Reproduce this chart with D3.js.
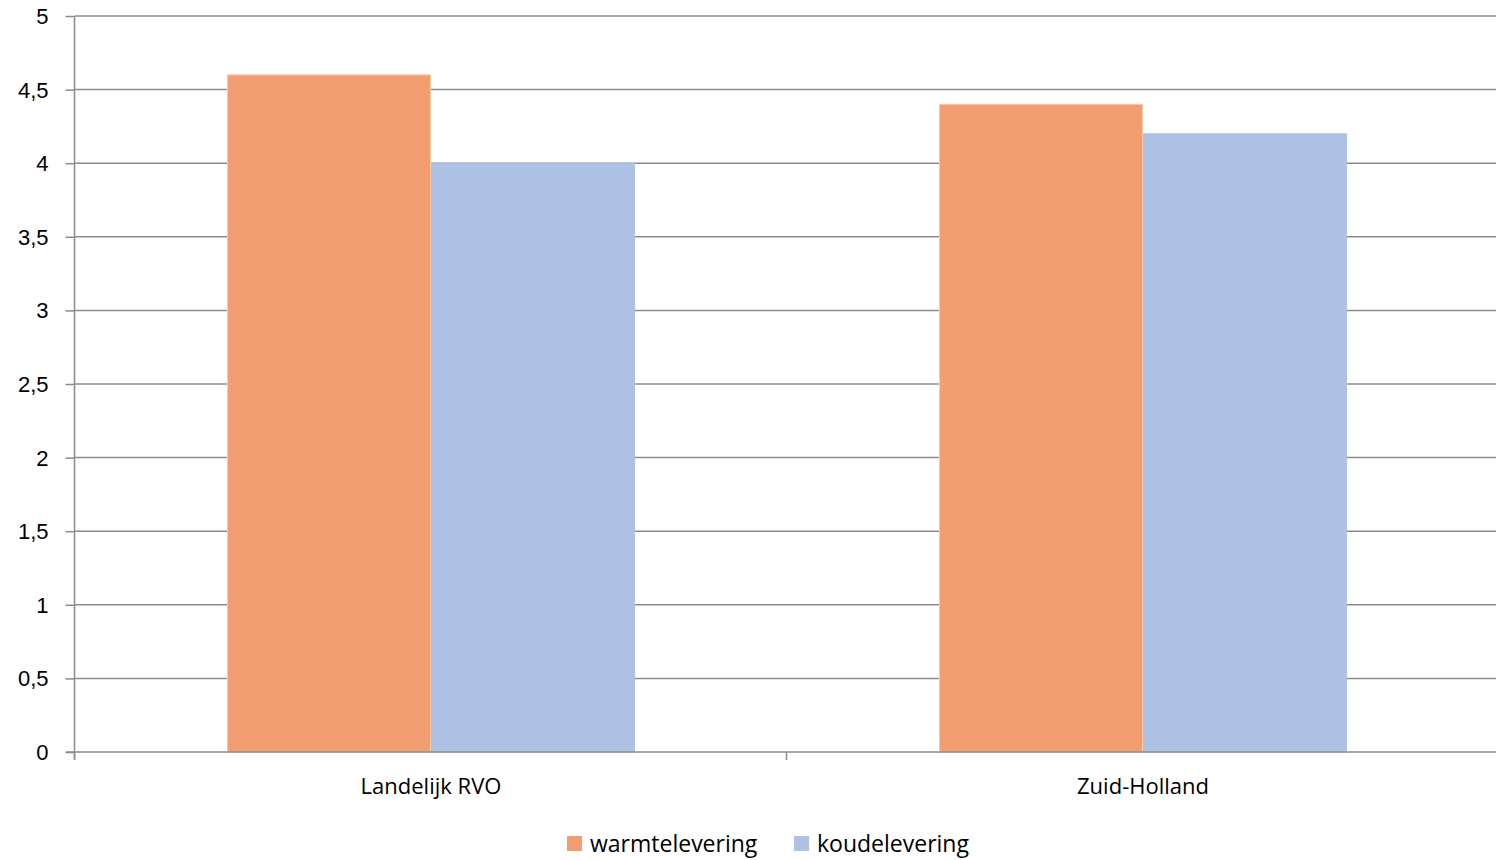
<!DOCTYPE html>
<html>
<head>
<meta charset="utf-8">
<script src="https://cdn.jsdelivr.net/npm/d3@7"></script>
<style>
  html, body { margin: 0; padding: 0; background: #fff; }
  svg { display: block; font-family: "Open Sans", "Noto Sans", sans-serif; }
</style>
</head>
<body>
<svg id="chart" width="1496" height="860"></svg>
<script>
const categories = ["Landelijk RVO", "Zuid-Holland"];
const seriesNames = ["warmtelevering", "koudelevering"];
const warmtelevering = [4.6, 4.4];
const koudelevering = [4.0, 4.2];
const yTicks = [0, 0.5, 1, 1.5, 2, 2.5, 3, 3.5, 4, 4.5, 5];

const colors = { warmtelevering: "#F39D72", koudelevering: "#ADC2E4" };
const strokes = { warmtelevering: "#FBC9A0", koudelevering: "#ADC2E4" };

const svg = d3.select("#chart");
const m = { left: 75, right: 1499, top: 16, bottom: 752 };

const x = d3.scaleBand().domain(categories).range([m.left, m.right]).paddingInner(0).paddingOuter(0);
const innerPad = 0.2135;
const x1 = d3.scaleBand().domain(seriesNames)
  .range([x.bandwidth() * innerPad, x.bandwidth() * (1 - innerPad)]).padding(0);
const y = d3.scaleLinear().domain([0, 5]).range([m.bottom, m.top]);

const fmt = d => d3.format("")(d).replace(".", ",");

// horizontal gridlines
svg.append("g").selectAll("line").data(yTicks.filter(d => d > 0)).join("line")
  .attr("x1", m.left).attr("x2", m.right)
  .attr("y1", d => y(d)).attr("y2", d => y(d))
  .attr("stroke", "#8c8c8c").attr("stroke-width", 1.5);

// bars
const rows = categories.map((c, i) => ({ cat: c, values: [
  { key: "warmtelevering", v: warmtelevering[i] },
  { key: "koudelevering", v: koudelevering[i] }
]}));
svg.append("g").selectAll("g").data(rows).join("g")
  .attr("transform", d => `translate(${x(d.cat)},0)`)
  .selectAll("rect").data(d => d.values).join("rect")
  .attr("x", d => x1(d.key) + 0.5)
  .attr("width", x1.bandwidth() - 1)
  .attr("y", d => y(d.v))
  .attr("height", d => y(0) - y(d.v))
  .attr("fill", d => colors[d.key])
  .attr("stroke", d => strokes[d.key]).attr("stroke-width", 1);

// y axis
const yAxis = d3.axisLeft(y).tickValues(yTicks).tickFormat(fmt).tickSize(9).tickPadding(17);
const gy = svg.append("g").attr("transform", `translate(${m.left - 0.5},0)`).call(yAxis);
gy.select(".domain").attr("stroke", "#8c8c8c").attr("stroke-width", 1.5).attr("d", `M0,${m.top}V${m.bottom + 8}`);
gy.selectAll(".tick line").attr("stroke", "#8c8c8c").attr("stroke-width", 1.5);
gy.selectAll(".tick text").attr("fill", "#000").style("font-size", "22px").attr("dy", "0.34em");

// x axis
const gx = svg.append("g").attr("transform", `translate(0,${m.bottom})`);
gx.append("line").attr("x1", m.left - 9).attr("x2", m.right).attr("y1", 0).attr("y2", 0)
  .attr("stroke", "#8c8c8c").attr("stroke-width", 1.5);
const bounds = [m.left, x(categories[1]), m.right];
gx.selectAll("line.tk").data(bounds.slice(0, 2)).join("line").attr("class", "tk")
  .attr("x1", d => d - 0.5).attr("x2", d => d - 0.5).attr("y1", 0).attr("y2", 8)
  .attr("stroke", "#8c8c8c").attr("stroke-width", 1.5);
gx.selectAll("text").data(categories).join("text")
  .attr("x", d => x(d) + x.bandwidth() / 2).attr("y", 42)
  .attr("text-anchor", "middle").style("font-size", "22px").attr("fill", "#000")
  .text(d => d);

// legend
const legend = svg.append("g").attr("transform", "translate(567,836)");
const items = [{ key: "warmtelevering", x: 0 }, { key: "koudelevering", x: 227 }];
const li = legend.selectAll("g").data(items).join("g").attr("transform", d => `translate(${d.x},0)`);
li.append("rect").attr("width", 15).attr("height", 15).attr("fill", d => colors[d.key]);
li.append("text").attr("x", 23).attr("y", 8).attr("dy", "0.36em")
  .style("font-size", "23px").attr("fill", "#000").text(d => d.key);
</script>
</body>
</html>
